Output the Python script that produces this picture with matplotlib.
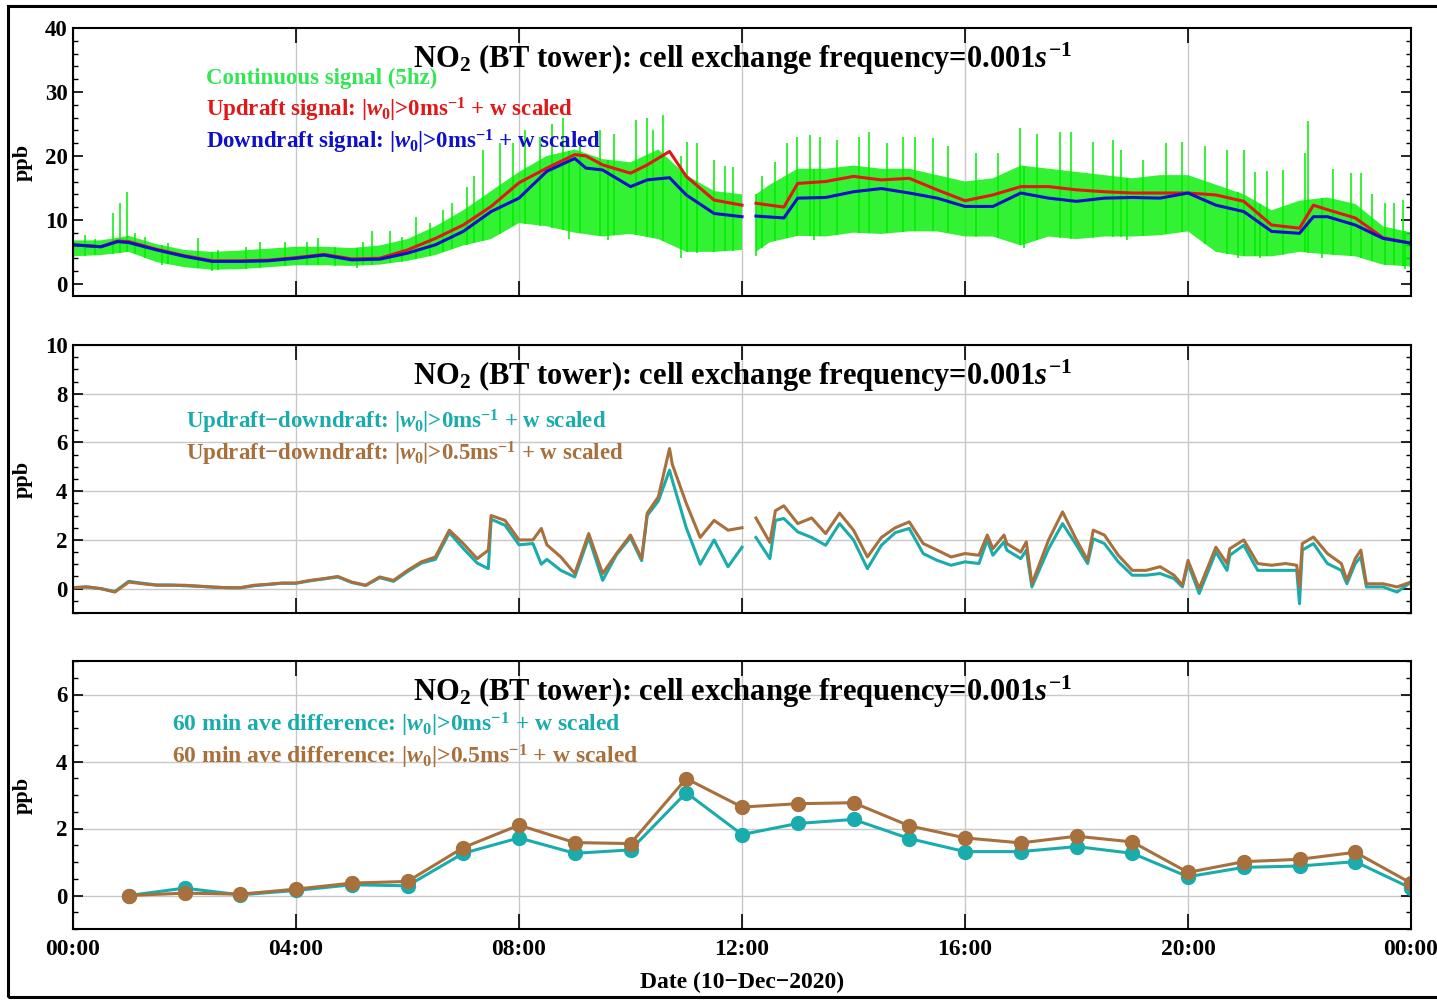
import matplotlib.pyplot as plt
import numpy as np
from matplotlib.patches import Rectangle
from matplotlib.ticker import MultipleLocator

plt.rcParams['font.family'] = ['Liberation Serif', 'DejaVu Serif']
plt.rcParams['font.weight'] = 'bold'
plt.rcParams['mathtext.fontset'] = 'custom'
plt.rcParams['mathtext.rm'] = 'Liberation Serif:bold'
plt.rcParams['mathtext.it'] = 'Liberation Serif:italic:bold'
plt.rcParams['mathtext.bf'] = 'Liberation Serif:bold'

nan = np.nan

# Panel 1 - smoothed updraft / downdraft signals (hours of day, ppb)
p1_t = [0, 0.5, 0.8, 1.0, 1.5, 2.0, 2.5, 3.0, 3.5, 4.0, 4.5, 5.0, 5.5, 6.0, 6.5, 7.0, 7.5,
        8.0, 8.5, 9.0, 9.2, 9.5, 10.0, 10.3, 10.7, 11.0, 11.5, 12.0, 12.1, 12.25, 12.75,
        13.0, 13.5, 14.0, 14.5, 15.0, 15.5, 16.0, 16.5, 17.0, 17.5, 18.0, 18.5, 19.0, 19.5,
        20.0, 20.5, 21.0, 21.5, 22.0, 22.25, 22.5, 23.0, 23.5, 24.0]
p1_blue = [6.1, 5.8, 6.6, 6.45, 5.3, 4.3, 3.5, 3.5, 3.6, 4.0, 4.5, 3.75, 3.85, 4.8, 6.1, 8.2, 11.3,
           13.4, 17.6, 19.6, 18.1, 17.8, 15.2, 16.25, 16.6, 13.9, 11.0, 10.5, nan, 10.6, 10.3,
           13.4, 13.5, 14.4, 14.9, 14.2, 13.4, 12.1, 12.1, 14.2, 13.4, 12.9, 13.4, 13.5, 13.4,
           14.2, 12.3, 11.3, 8.2, 7.9, 10.5, 10.5, 9.2, 7.1, 6.35]
p1_red = [6.1, 5.8, 6.7, 6.6, 5.4, 4.4, 3.6, 3.6, 3.7, 4.1, 4.6, 3.9, 4.0, 5.3, 7.1, 9.2, 12.1,
          15.8, 18.1, 20.2, 20.0, 18.6, 17.3, 18.6, 20.7, 16.8, 13.1, 12.3, nan, 12.6, 12.0,
          15.7, 16.0, 16.8, 16.25, 16.5, 14.7, 13.0, 13.9, 15.2, 15.2, 14.7, 14.4, 14.2, 14.2,
          14.2, 13.9, 12.9, 9.2, 8.7, 12.3, 11.6, 10.3, 7.2, 6.35]

# Panel 1 - continuous 5 Hz signal: dense band (low / high), upward and downward spikes
green_t = [0, 0.5, 1.0, 1.5, 2.0, 2.5, 3.0, 3.5, 4.0, 4.5, 5.0, 5.5, 6.0, 6.5, 7.0, 7.5, 8.0,
           8.5, 9.0, 9.5, 10.0, 10.5, 11.0, 11.5, 12.0, 12.1, 12.25, 12.5, 13.0, 13.5, 14.0,
           14.5, 15.0, 15.5, 16.0, 16.5, 17.0, 17.5, 18.0, 18.5, 19.0, 19.5, 20.0, 20.5, 21.0,
           21.5, 22.0, 22.5, 23.0, 23.5, 24.0]
green_hi = [6.8, 6.8, 7.5, 6.2, 5.3, 5.0, 5.2, 5.5, 5.8, 5.8, 5.6, 6.0, 7.0, 9.0, 11.5, 14.5, 17.5,
            20.0, 21.0, 19.5, 19.0, 21.0, 17.0, 14.5, 14.0, nan, 14.0, 15.5, 18.0, 18.0, 18.5,
            18.0, 18.0, 17.0, 16.0, 16.5, 18.5, 18.0, 17.5, 17.0, 16.5, 17.0, 17.0, 15.5, 14.0,
            11.5, 13.0, 13.5, 12.5, 9.0, 8.0]
green_lo = [4.3, 4.5, 5.0, 3.4, 2.6, 2.2, 2.3, 2.6, 2.9, 2.9, 2.8, 3.0, 3.6, 4.5, 6.0, 7.0, 9.5,
            9.0, 8.0, 7.4, 7.8, 7.0, 5.0, 5.0, 5.3, nan, 5.0, 6.5, 7.5, 7.4, 8.0,
            7.8, 8.2, 8.2, 7.4, 7.4, 6.0, 7.4, 7.0, 7.4, 7.4, 7.6, 8.2, 5.0, 4.3,
            4.3, 5.0, 4.6, 4.3, 3.0, 2.7]
spike_t = [0.22, 0.4, 0.72, 0.84, 0.96, 1.11, 1.3, 1.7, 2.25, 2.6, 3.1, 3.35, 3.8, 4.2, 4.4,
           4.7, 5.2, 5.36, 5.69, 5.9, 6.16, 6.4, 6.64, 6.8, 7.06, 7.2, 7.36, 7.66, 7.9, 8.1,
           8.38, 8.6, 8.79, 9.1, 9.45, 9.7, 10.1, 10.29, 10.4, 10.59, 10.9, 11.01, 11.2, 11.49,
           11.7, 11.84, 12.35, 12.6, 12.8, 12.98, 13.22, 13.4, 13.7, 14.1, 14.27, 14.6, 14.89,
           15.1, 15.43, 15.7, 16.2, 16.6, 16.99, 17.3, 17.7, 17.9, 18.3, 18.66, 18.8, 19.2,
           19.6, 19.89, 20.3, 20.7, 21.0, 21.2, 21.41, 21.7, 22.1, 22.16, 22.6, 22.93, 23.1,
           23.3, 23.53, 23.7, 23.86]
spike_v = [7.7, 7.0, 11.0, 12.6, 14.4, 7.9, 7.4, 6.4, 7.1, 5.3, 5.8, 6.6, 6.6, 6.6, 7.1,
           5.8, 6.5, 8.2, 8.2, 7.4, 10.5, 9.5, 11.6, 12.6, 15.2, 16.8, 20.9, 22.0, 22.0, 24.0,
           23.0, 25.0, 25.9, 23.0, 24.0, 23.5, 25.6, 25.9, 24.0, 26.4, 20.0, 22.2, 22.0, 19.4,
           18.5, 18.3, 16.8, 19.0, 22.0, 23.0, 23.3, 23.0, 22.5, 23.0, 23.8, 22.0, 23.0,
           23.0, 22.8, 21.5, 20.4, 20.4, 24.3, 23.5, 23.8, 23.8, 22.2, 22.5, 20.9, 19.4,
           22.0, 22.2, 21.5, 21.0, 20.9, 17.5, 17.6, 17.8, 20.4, 25.4, 18.0, 17.3, 17.3,
           14.0, 12.6, 12.6, 13.1]
dip_t = [1.6, 2.5, 5.1, 8.9, 9.6, 10.9, 11.19, 12.26, 13.3, 17.05, 18.9, 20.9, 21.3, 22.4, 23.9]
dip_v = [3.0, 2.0, 2.5, 7.0, 6.8, 4.0, 4.8, 4.3, 6.8, 5.6, 6.8, 4.0, 4.0, 4.0, 2.3]

# Panel 2 - updraft minus downdraft
p2_t = [0.0, 0.25, 0.5, 0.75, 1.0, 1.25, 1.5, 1.75, 2.0, 2.25, 2.5, 2.75, 3.0, 3.25, 3.5, 3.75,
        4.0, 4.25, 4.5, 4.75, 5.0, 5.25, 5.5, 5.75, 6.0, 6.25, 6.5, 6.75, 7.0, 7.25, 7.45, 7.5,
        7.75, 8.0, 8.25, 8.4, 8.5, 8.75, 9.0, 9.25, 9.5, 9.75, 10.0, 10.2, 10.3, 10.5, 10.7,
        10.75, 11.0, 11.25, 11.5, 11.75, 12.0, 12.1, 12.25, 12.5, 12.6, 12.75, 13.0, 13.25,
        13.5, 13.75, 14.0, 14.25, 14.5, 14.75, 15.0, 15.25, 15.5, 15.75, 16.0, 16.25, 16.4,
        16.5, 16.7, 16.75, 17.0, 17.1, 17.2, 17.5, 17.75, 18.0, 18.2, 18.3, 18.5, 18.75, 19.0,
        19.25, 19.5, 19.75, 19.9, 20.0, 20.2, 20.5, 20.7, 20.75, 21.0, 21.25, 21.5, 21.75,
        21.95, 22.0, 22.05, 22.25, 22.5, 22.75, 22.85, 23.0, 23.1, 23.2, 23.5, 23.75, 24.0]
p2_brown = [0.04, 0.07, 0.0, -0.14, 0.27, 0.2, 0.14, 0.14, 0.14, 0.1, 0.07, 0.04, 0.04, 0.14, 0.18, 0.23,
            0.23, 0.34, 0.41, 0.5, 0.27, 0.14, 0.48, 0.34, 0.75, 1.1, 1.3, 2.4, 1.85, 1.23, 1.58, 3.0,
            2.8, 2.0, 2.0, 2.47, 1.8, 1.3, 0.62, 2.26, 0.62, 1.44, 2.2, 1.23, 3.1, 3.77, 5.75,
            5.1, 3.5, 2.1, 2.8, 2.4, 2.5, nan, 2.9, 1.9, 3.2, 3.4, 2.67, 2.9,
            2.26, 3.1, 2.4, 1.3, 2.1, 2.5, 2.74, 1.85, 1.58, 1.3, 1.44, 1.37, 2.2,
            1.64, 2.2, 1.85, 1.5, 1.92, 0.2, 2.0, 3.15, 2.0, 1.16, 2.4, 2.2, 1.37, 0.75,
            0.75, 0.9, 0.55, 0.14, 1.16, 0.0, 1.7, 1.03, 1.64, 2.0, 1.03, 0.96, 1.03,
            0.96, 0.07, 1.85, 2.12, 1.44, 1.03, 0.34, 1.23, 1.58, 0.2, 0.2, 0.07, 0.27]
p2_teal = [0.04, 0.07, 0.0, -0.12, 0.3, 0.22, 0.15, 0.15, 0.12, 0.1, 0.06, 0.04, 0.03, 0.12, 0.17, 0.22,
           0.22, 0.32, 0.4, 0.48, 0.25, 0.13, 0.45, 0.3, 0.7, 1.05, 1.2, 2.3, 1.65, 1.05, 0.82, 2.85,
           2.6, 1.8, 1.85, 1.0, 1.2, 0.75, 0.48, 2.1, 0.34, 1.4, 2.1, 1.15, 3.0, 3.6, 4.86,
           4.45, 2.5, 1.0, 2.0, 0.9, 1.7, nan, 2.1, 1.23, 2.8, 2.88, 2.33, 2.1,
           1.78, 2.67, 2.0, 0.82, 1.78, 2.3, 2.47, 1.44, 1.16, 0.96, 1.1, 1.03, 2.0,
           1.37, 1.92, 1.58, 1.23, 1.58, 0.07, 1.64, 2.67, 1.78, 1.03, 2.05, 1.85, 1.1, 0.55,
           0.55, 0.62, 0.41, 0.07, 1.03, -0.2, 1.5, 0.75, 1.37, 1.78, 0.75, 0.75, 0.75,
           0.75, -0.62, 1.58, 1.85, 1.03, 0.75, 0.2, 1.03, 1.3, 0.07, 0.07, -0.14, 0.27]

# Panel 3 - 60 min averages of the difference
p3_t = list(range(1, 25))
p3_teal = [0.0, 0.22, 0.02, 0.15, 0.32, 0.29, 1.26, 1.72, 1.26, 1.36, 3.07, 1.82,
           2.15, 2.27, 1.70, 1.31, 1.31, 1.46, 1.26, 0.56, 0.84, 0.88, 1.01, 0.22]
p3_brown = [0.0, 0.07, 0.04, 0.19, 0.37, 0.42, 1.43, 2.1, 1.58, 1.55, 3.49, 2.64,
            2.74, 2.77, 2.08, 1.72, 1.57, 1.77, 1.6, 0.69, 1.01, 1.08, 1.29, 0.37]

hour_ticks = [0, 4, 8, 12, 16, 20, 24]
hour_labels = ['00:00', '04:00', '08:00', '12:00', '16:00', '20:00', '00:00']

title = r'NO$_2$ (BT tower): cell exchange frequency=0.001$s^{-1}$'
c_green = '#00ee00'
c_red = '#e01818'
c_blue = '#1010c8'
c_teal = '#1aacac'
c_brown = '#a8703c'
leg_fs = 16.5

fig = plt.figure(figsize=(14.37, 10), dpi=100)
left, width, height = 73 / 1437, 1338 / 1437, 0.268
ax1 = fig.add_axes([left, 0.704, width, height])
ax2 = fig.add_axes([left, 0.387, width, height])
ax3 = fig.add_axes([left, 0.071, width, height])


def style(ax, ymin, ymax, major, minor, hgrid):
    ax.set_xlim(0, 24)
    ax.set_ylim(ymin, ymax)
    ax.set_xticks(hour_ticks)
    ax.yaxis.set_major_locator(MultipleLocator(major))
    ax.yaxis.set_minor_locator(MultipleLocator(minor))
    ax.tick_params(axis='x', which='major', direction='in', top=True, length=11, width=1.2,
                   pad=7, labelsize=17)
    ax.tick_params(axis='y', which='major', direction='in', right=True, length=7, width=1.2,
                   pad=4, labelsize=16.5)
    ax.tick_params(axis='y', which='minor', direction='in', right=True, length=3.5, width=1)
    ax.grid(axis='x', color='#c8c8c8', lw=1)
    if hgrid:
        ax.grid(axis='y', color='#c8c8c8', lw=1)
    ax.set_axisbelow(True)
    for s in ax.spines.values():
        s.set_linewidth(1.5)
    ax.set_ylabel('ppb', fontsize=16, fontweight='bold')
    ax.yaxis.set_label_coords(-0.03, 0.5)
    ax.text(0.5, 0.885, title, transform=ax.transAxes, ha='center', va='center', fontsize=22)


# Panel 1
ax1.fill_between(green_t, green_lo, green_hi, color=c_green, alpha=0.8, lw=0)
band_lo = np.interp(spike_t, green_t, np.nan_to_num(green_lo, nan=5.0))
band_hi = np.interp(dip_t, green_t, np.nan_to_num(green_hi, nan=14.0))
ax1.vlines(spike_t, band_lo, spike_v, color=c_green, lw=1.1)
ax1.vlines(dip_t, dip_v, band_hi, color=c_green, lw=1.1)
ax1.plot(p1_t, p1_red, color=c_red, lw=2.2)
ax1.plot(p1_t, p1_blue, color=c_blue, lw=2.2)
style(ax1, -1.9, 40, 10, 2, False)
ax1.set_xticklabels([])
ax1.text(0.0994, 0.813, 'Continuous signal (5hz)', transform=ax1.transAxes,
         color='#33e655', fontsize=leg_fs, va='center')
ax1.text(0.0994, 0.694, r'Updraft signal: |$w_0$|>0ms$^{-1}$ + w scaled', transform=ax1.transAxes,
         color=c_red, fontsize=leg_fs, va='center')
ax1.text(0.0994, 0.575, r'Downdraft signal: |$w_0$|>0ms$^{-1}$ + w scaled', transform=ax1.transAxes,
         color=c_blue, fontsize=leg_fs, va='center')

# Panel 2
ax2.plot(p2_t, p2_teal, color=c_teal, lw=2.2)
ax2.plot(p2_t, p2_brown, color=c_brown, lw=2.2)
style(ax2, -1.0, 10, 2, 0.5, True)
ax2.set_xticklabels([])
ax2.text(0.0845, 0.713, 'Updraft\u2212downdraft: |$w_0$|>0ms$^{-1}$ + w scaled',
         transform=ax2.transAxes, color=c_teal, fontsize=leg_fs, va='center')
ax2.text(0.0845, 0.593, 'Updraft\u2212downdraft: |$w_0$|>0.5ms$^{-1}$ + w scaled',
         transform=ax2.transAxes, color=c_brown, fontsize=leg_fs, va='center')

# Panel 3
ax3.plot(p3_t, p3_teal, color=c_teal, lw=2.2, marker='o', ms=10)
ax3.plot(p3_t, p3_brown, color=c_brown, lw=2.2, marker='o', ms=10)
style(ax3, -1.0, 7.0, 2, 0.5, True)
ax3.set_xticklabels(hour_labels)
ax3.text(0.074, 0.761, '60 min ave difference: |$w_0$|>0ms$^{-1}$ + w scaled',
         transform=ax3.transAxes, color=c_teal, fontsize=17, va='center')
ax3.text(0.074, 0.642, '60 min ave difference: |$w_0$|>0.5ms$^{-1}$ + w scaled',
         transform=ax3.transAxes, color=c_brown, fontsize=17, va='center')

fig.text(742 / 1437, 1 - 982 / 1000, 'Date (10\u2212Dec\u22122020)', ha='center', va='center', fontsize=17)

# outer frame round the whole figure
fig.patches.append(Rectangle((8 / 1437, 0.003), 1.0, 0.991, transform=fig.transFigure,
                             fill=False, lw=2.2, ec='black'))

plt.savefig('out.png', dpi=100)
